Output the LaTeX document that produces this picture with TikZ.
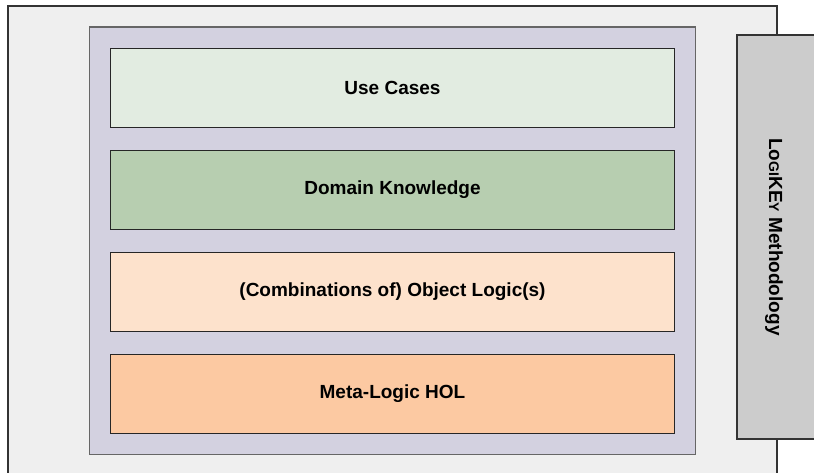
\documentclass[tikz,border=0pt]{standalone}
\usepackage{fontspec}
\setmainfont{Liberation Sans}
\usetikzlibrary{positioning,fit,backgrounds}
\definecolor{usecasegreen}{RGB}{226,236,225}
\definecolor{domaingreen}{RGB}{183,206,176}
\definecolor{objectpeach}{RGB}{253,226,204}
\definecolor{metaorange}{RGB}{252,201,162}
\definecolor{layerlilac}{RGB}{211,209,224}
\definecolor{framegrey}{RGB}{239,239,239}
\definecolor{sidegrey}{RGB}{204,204,204}
\newcommand{\smallcap}[1]{{\fontsize{14}{16}\selectfont #1}}

\begin{document}
\begin{tikzpicture}[
        x=1pt, y=1pt,
        font=\fontsize{19}{23}\selectfont\bfseries,
        node distance=21.7pt,
        layer/.style={rectangle, draw=black!85, line width=1.3pt, fill=#1, minimum width=564pt, minimum height=79pt, inner sep=0pt},
        sidebox/.style={rectangle, draw=black!80, line width=1.3pt, fill=sidegrey, inner sep=0pt},
    ]
        \useasboundingbox (0,0) rectangle (814,473);
        \clip (0,0) rectangle (814,473);
        \node[layer=usecasegreen] (uc) at (392.5,385.2) {Use Cases};
        \node[layer=domaingreen, below=of uc] (dk) {Domain Knowledge};
        \node[layer=objectpeach, below=of dk] (ol) {(Combinations of) Object Logic(s)};
        \node[layer=metaorange, below=of ol] (hol) {Meta-Logic HOL};
        \begin{scope}[on background layer]
            \draw[fill=framegrey, draw=black!80, line width=1.3pt] (8,-20) rectangle (777,467);
            \node[fit=(uc)(hol), inner sep=20.5pt, fill=layerlilac, draw=black!60, line width=1.3pt] (stack) {};
        \end{scope}
        \node[sidebox, rotate=-90, minimum width=404pt, minimum height=82pt, text height=22pt] (method) at (778,236)
            {Lo\smallcap{GI}KE\smallcap{Y} Methodology};
    \end{tikzpicture}
\end{document}
